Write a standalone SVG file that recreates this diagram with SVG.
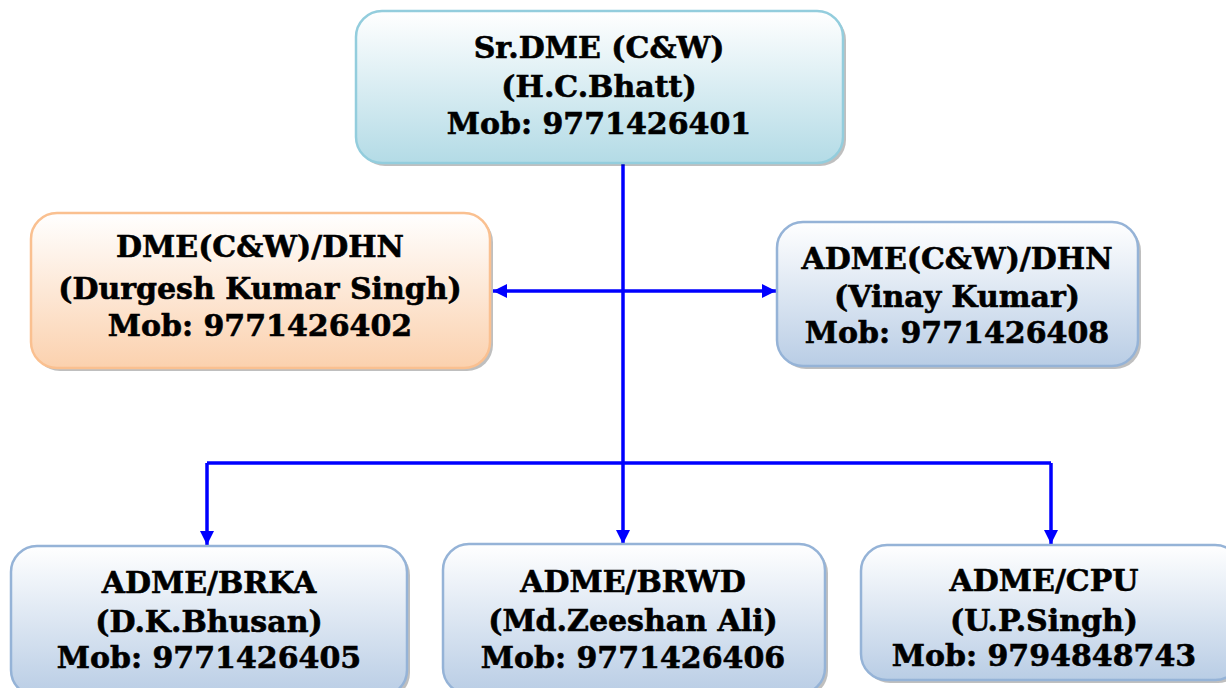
<svg xmlns="http://www.w3.org/2000/svg" width="1226" height="688" viewBox="0 0 1226 688">
<defs>
<linearGradient id="gBlue" x1="0" y1="0" x2="0" y2="1"><stop offset="0" stop-color="#ffffff"/><stop offset="1" stop-color="#b9cde5"/></linearGradient>
<linearGradient id="gAqua" x1="0" y1="0" x2="0" y2="1"><stop offset="0" stop-color="#ffffff"/><stop offset="1" stop-color="#b3dbe6"/></linearGradient>
<linearGradient id="gOrange" x1="0" y1="0" x2="0" y2="1"><stop offset="0" stop-color="#ffffff"/><stop offset="1" stop-color="#fbd1ae"/></linearGradient>
<marker id="arr" viewBox="0 0 10 10" refX="10" refY="5" markerWidth="4" markerHeight="4" orient="auto" markerUnits="strokeWidth"><path d="M0,0 L10,5 L0,10 Z" fill="#0000ff"/></marker>
</defs>
<style>
.sh{fill:#000;opacity:0.25}
.box{stroke-width:2.5}
.aqua{fill:url(#gAqua);stroke:#93cddd}
.blue{fill:url(#gBlue);stroke:#95b3d7}
.orange{fill:url(#gOrange);stroke:#fac090}
text{font-family:"DejaVu Serif","Liberation Serif",serif;font-weight:bold;font-size:30px;fill:#000;stroke:#000;stroke-width:0.6;text-anchor:middle}
.c{fill:none;stroke:#0000ff;stroke-width:3.5}
</style>
<g id="connectors">
<path class="c" d="M623,163 V544" marker-end="url(#arr)"/>
<path class="c" d="M623,291 H493" marker-end="url(#arr)"/>
<path class="c" d="M623,291 H776" marker-end="url(#arr)"/>
<path class="c" d="M207,463 H1051"/>
<path class="c" d="M207,463 V545" marker-end="url(#arr)"/>
<path class="c" d="M1051,463 V544" marker-end="url(#arr)"/>
</g>
<g id="n-srdme">
<rect class="sh" x="359" y="14" width="487" height="152" rx="26"/>
<rect class="box aqua" x="356" y="11" width="487" height="152" rx="26"/>
<text x="599" y="58">Sr.DME (C&amp;W)</text>
<text x="599" y="97">(H.C.Bhatt)</text>
<text x="599" y="134">Mob: 9771426401</text>
</g>
<g id="n-dme">
<rect class="sh" x="34" y="216" width="459" height="155" rx="26"/>
<rect class="box orange" x="31" y="213" width="459" height="155" rx="26"/>
<text x="260" y="257">DME(C&amp;W)/DHN</text>
<text x="260" y="299">(Durgesh Kumar Singh)</text>
<text x="260" y="336">Mob: 9771426402</text>
</g>
<g id="n-adme-dhn">
<rect class="sh" x="780" y="225" width="361" height="144" rx="26"/>
<rect class="box blue" x="777" y="222" width="361" height="144" rx="26"/>
<text x="957" y="269">ADME(C&amp;W)/DHN</text>
<text x="957" y="307">(Vinay Kumar)</text>
<text x="957" y="343">Mob: 9771426408</text>
</g>
<g id="n-brka">
<rect class="sh" x="14" y="549" width="396" height="150" rx="26"/>
<rect class="box blue" x="11" y="546" width="396" height="150" rx="26"/>
<text x="209" y="593">ADME/BRKA</text>
<text x="209" y="632">(D.K.Bhusan)</text>
<text x="209" y="668">Mob: 9771426405</text>
</g>
<g id="n-brwd">
<rect class="sh" x="446" y="547" width="382" height="150" rx="26"/>
<rect class="box blue" x="443" y="544" width="382" height="150" rx="26"/>
<text x="633" y="592">ADME/BRWD</text>
<text x="633" y="631">(Md.Zeeshan Ali)</text>
<text x="633" y="668">Mob: 9771426406</text>
</g>
<g id="n-cpu">
<rect class="sh" x="864" y="548" width="380" height="135" rx="26"/>
<rect class="box blue" x="861" y="545" width="380" height="135" rx="26"/>
<text x="1044" y="591">ADME/CPU</text>
<text x="1044" y="631">(U.P.Singh)</text>
<text x="1044" y="666">Mob: 9794848743</text>
</g>
</svg>
